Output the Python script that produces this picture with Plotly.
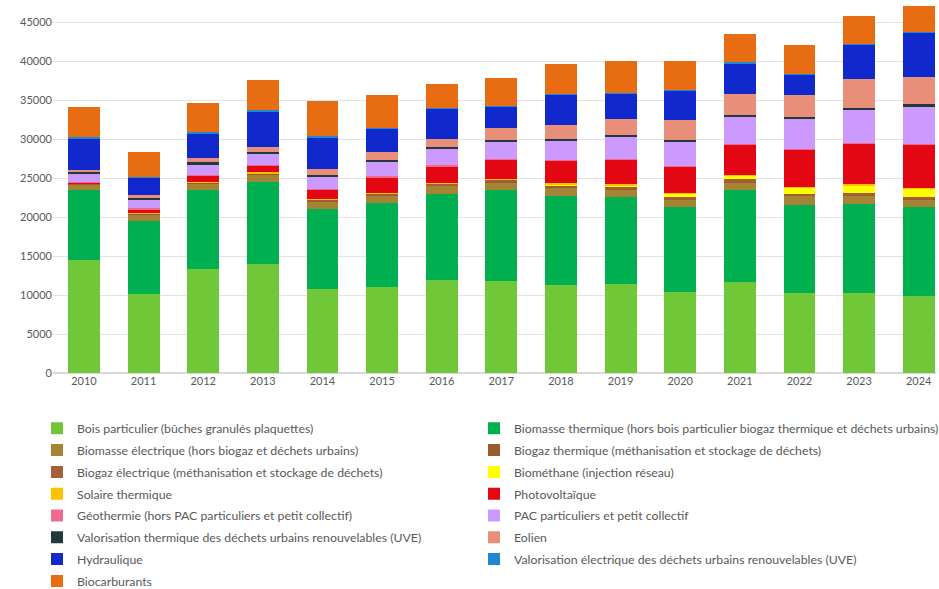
import plotly.graph_objects as go

years = [str(y) for y in range(2010, 2025)]

bois = [14500, 10130, 13330, 14010, 10720, 11020, 11920, 11830, 11320, 11360, 10380, 11740, 10210, 10290, 9910]
biomasse_th = [9000, 9400, 10170, 10520, 10300, 10770, 11070, 11630, 11410, 11200, 10900, 11760, 11370, 11450, 11410]
biomasse_el = [640, 850, 860, 990, 980, 940, 1020, 1030, 1110, 940, 1030, 940, 1150, 1030, 900]
biogaz_th = [60, 60, 60, 70, 100, 110, 110, 120, 110, 170, 140, 180, 130, 160, 150]
biogaz_el = [80, 70, 60, 70, 120, 150, 150, 170, 150, 250, 190, 250, 170, 220, 190]
biomethane = [0, 0, 0, 0, 0, 0, 0, 40, 150, 200, 330, 480, 710, 970, 1090]
solaire = [80, 80, 90, 80, 80, 110, 110, 120, 110, 110, 110, 110, 110, 110, 110]
pv = [100, 430, 730, 850, 1200, 2040, 2150, 2410, 2850, 3180, 3420, 3840, 4770, 5160, 5580]
geo = [60, 100, 100, 100, 100, 100, 100, 100, 100, 100, 100, 100, 100, 100, 100]
pac = [1120, 1150, 1390, 1480, 1600, 1890, 2060, 2270, 2470, 2750, 3010, 3500, 3840, 4260, 4740]
uve_th = [200, 170, 250, 210, 260, 210, 260, 210, 210, 260, 300, 210, 260, 300, 300]
eolien = [150, 390, 520, 640, 680, 980, 1020, 1460, 1880, 2120, 2520, 2700, 2820, 3720, 3540]
hydro = [4120, 2230, 3230, 4590, 4120, 3060, 3910, 2800, 3870, 3220, 3780, 3950, 2660, 4340, 5620]
uve_el = [110, 110, 110, 110, 110, 110, 110, 110, 110, 110, 110, 110, 110, 110, 110]
biocarb = [3850, 3130, 3750, 3850, 4490, 4140, 3080, 3540, 3760, 4110, 3680, 3670, 3680, 3580, 3300]

series = [
    ("Bois particulier (bûches granulés plaquettes)", bois, "#70C738"),
    ("Biomasse thermique (hors bois particulier biogaz thermique et déchets urbains)", biomasse_th, "#00B050"),
    ("Biomasse électrique (hors biogaz et déchets urbains)", biomasse_el, "#A58534"),
    ("Biogaz thermique (méthanisation et stockage de déchets)", biogaz_th, "#9A5B2E"),
    ("Biogaz électrique (méthanisation et stockage de déchets)", biogaz_el, "#A35E3A"),
    ("Biométhane (injection réseau)", biomethane, "#FFFF00"),
    ("Solaire thermique", solaire, "#FFC000"),
    ("Photovoltaïque", pv, "#E30613"),
    ("Géothermie (hors PAC particuliers et petit collectif)", geo, "#F06A8E"),
    ("PAC particuliers et petit collectif", pac, "#CC99FF"),
    ("Valorisation thermique des déchets urbains renouvelables (UVE)", uve_th, "#203A3C"),
    ("Eolien", eolien, "#E88E79"),
    ("Hydraulique", hydro, "#1028CC"),
    ("Valorisation électrique des déchets urbains renouvelables (UVE)", uve_el, "#1E88D0"),
    ("Biocarburants", biocarb, "#E86C12"),
]

W, H = 939, 589
fig = go.Figure()
legends = {}
for i, (name, vals, col) in enumerate(series):
    lname = "legend" if i == 0 else f"legend{i + 1}"
    fig.add_trace(go.Bar(x=years, y=vals, name=name, legend=lname,
                         marker=dict(color=col, line=dict(width=0))))
    row, colidx = divmod(i, 2)
    yc = 428.3 + 21.8 * row
    xl = 37 if colidx == 0 else 474
    legends[lname] = dict(
        xref="container", yref="container",
        x=xl / W, xanchor="left", y=1 - yc / H, yanchor="middle",
        orientation="h", bgcolor="rgba(0,0,0,0)", borderwidth=0,
        font=dict(size=12.3, color="#595959"), itemwidth=30,
    )

fig.update_layout(
    barmode="stack",
    bargap=0.465,
    width=W, height=H,
    margin=dict(l=53, r=3, t=0, b=216),
    paper_bgcolor="white", plot_bgcolor="white",
    font=dict(family="Lato, Carlito, sans-serif", color="#595959", size=11),
    xaxis=dict(type="category", range=[-0.52, 14.29], showgrid=False, showline=False,
               ticks="", tickfont=dict(size=11, color="#595959")),
    yaxis=dict(range=[0, 47860], dtick=5000, tickformat="d", showgrid=True,
               gridcolor="#E4E4E4", gridwidth=1, zeroline=True, zerolinecolor="#D9D9D9",
               showline=False, ticks="", tickfont=dict(size=11, color="#595959")),
    showlegend=True,
    **legends,
)

fig.write_html("out.html", post_script="document.body.style.margin='0';",
               config={"displayModeBar": False})
